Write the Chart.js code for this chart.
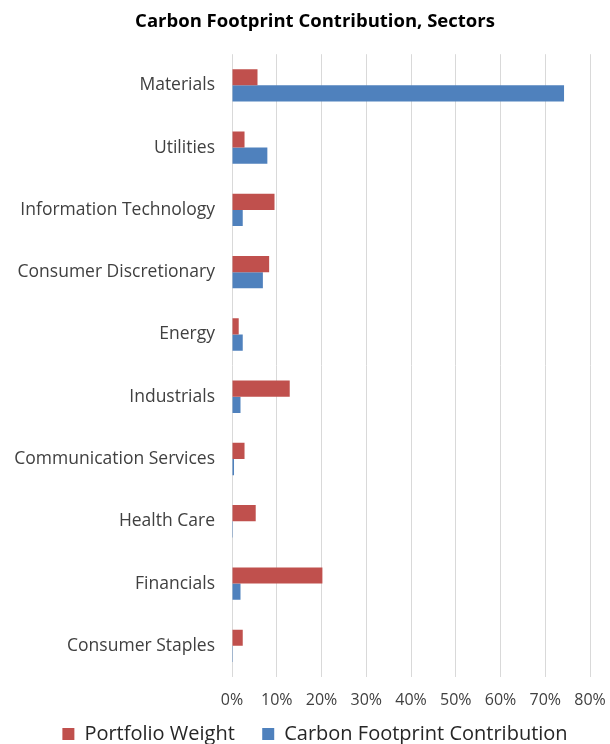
<!DOCTYPE html>
<html>
<head>
<meta charset="utf-8">
<script src="https://cdn.jsdelivr.net/npm/chart.js@4"></script>
<style>
html,body{margin:0;padding:0;background:#fff;overflow:hidden;}
#wrap{width:610px;height:744px;overflow:hidden;position:relative;}
#c{position:absolute;left:0;top:0;}
</style>
</head>
<body>
<div id="wrap"><canvas id="c" width="630" height="754"></canvas></div>
<script>
const categories = ["Materials","Utilities","Information Technology","Consumer Discretionary","Energy","Industrials","Communication Services","Health Care","Financials","Consumer Staples"];
const portfolioWeight = [5.7, 2.8, 9.5, 8.3, 1.5, 12.9, 2.8, 5.3, 20.2, 2.4];
const carbonContribution = [74.2, 7.9, 2.4, 6.9, 2.4, 1.9, 0.45, 0.2, 1.9, 0.2];
const xTicks = [0,10,20,30,40,50,60,70,80];
const seriesNames = ['Portfolio Weight', 'Carbon Footprint Contribution'];

const FONT = "'Open Sans', 'DejaVu Sans', sans-serif";

new Chart(document.getElementById('c'), {
  type: 'bar',
  data: {
    labels: categories,
    datasets: [
      {label: seriesNames[0], data: portfolioWeight, backgroundColor: '#C0504D', borderWidth: 0},
      {label: seriesNames[1], data: carbonContribution, backgroundColor: '#4F81BD', borderWidth: 0}
    ]
  },
  options: {
    indexAxis: 'y',
    responsive: false,
    animation: false,
    devicePixelRatio: 1,
    layout: {padding: {left: 0, right: 0, top: 0, bottom: 0}},
    datasets: {bar: {categoryPercentage: 0.52, barPercentage: 1}},
    plugins: {
      title: {
        display: true,
        text: 'Carbon Footprint Contribution, Sectors',
        color: '#000',
        font: {family: FONT, size: 18.5, weight: 'bold'},
        padding: {top: 11, bottom: 21}
      },
      legend: {
        position: 'bottom',
        labels: {
          color: '#262626',
          font: {family: FONT, size: 20},
          boxWidth: 12,
          boxHeight: 12,
          padding: 17,
          generateLabels: (chart) => {
            const items = Chart.defaults.plugins.legend.labels.generateLabels(chart);
            items[0].text = items[0].text + '  ';
            return items;
          }
        }
      },
      tooltip: {enabled: false}
    },
    scales: {
      x: {
        min: 0, max: 80,
        afterBuildTicks: (s) => { s.ticks = xTicks.map(v => ({value: v})); },
        afterFit: (s) => { s.height = 30; s.paddingLeft = 0; s.paddingRight = 40; },
        ticks: {
          color: '#404040',
          font: {family: FONT, size: 16, lineHeight: 1},
          padding: 15,
          callback: (v) => v + '%'
        },
        grid: {color: '#d9d9d9', lineWidth: 1, drawTicks: false},
        border: {display: false}
      },
      y: {
        afterFit: (s) => { s.width = 232; },
        ticks: {
          color: '#404040',
          font: {family: FONT, size: 17.5},
          padding: 17
        },
        grid: {display: false, drawTicks: false},
        border: {display: false}
      }
    }
  }
});
</script>
</body>
</html>
